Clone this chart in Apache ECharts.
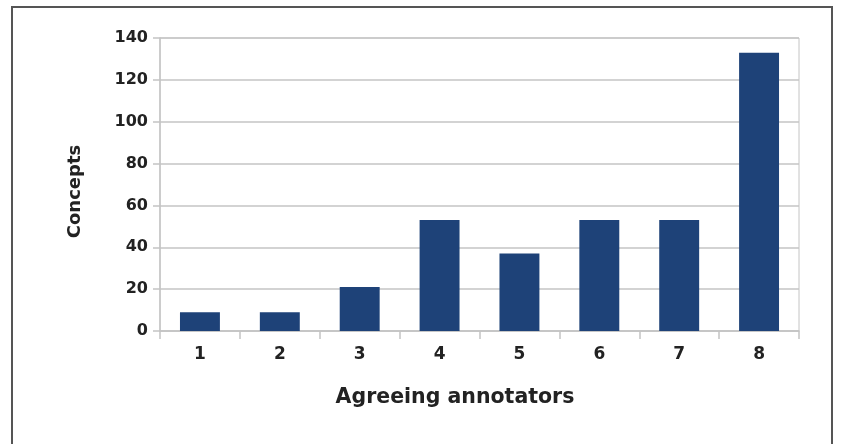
<!DOCTYPE html>
<html><head><meta charset="utf-8">
<script src="https://cdn.jsdelivr.net/npm/echarts@6/dist/echarts.min.js"></script>
<style>html,body{margin:0;padding:0;background:#fff}#c{width:849px;height:444px}</style>
</head><body><div id="c"></div>
<script>
const categories = ['1','2','3','4','5','6','7','8'];
const concepts = [9, 9, 21, 53, 37, 53, 53, 133];
const yTicks = [0, 20, 40, 60, 80, 100, 120, 140];
const xTitle = 'Agreeing annotators';
const yTitle = 'Concepts';

const chart = echarts.init(document.getElementById('c'), null, {renderer:'canvas'});
const font = 'DejaVu Sans';
chart.setOption({
  animation: false,
  backgroundColor: '#fff',
  graphic: [{
    type: 'rect', silent: true,
    shape: {x: 12, y: 7, width: 820, height: 450},
    style: {fill: 'none', stroke: '#555', lineWidth: 2}
  }],
  grid: {left: 160, right: 50, top: 38, bottom: 113, show: true, borderColor: '#c4c4c4', borderWidth: 1},
  xAxis: {
    type: 'category', data: categories,
    name: xTitle, nameLocation: 'middle', nameGap: 56,
    nameTextStyle: {fontFamily: font, fontWeight: 'bold', fontSize: 20.5, color: '#222', padding: [0, 49, 0, 0]},
    axisLine: {lineStyle: {color: '#c4c4c4', width: 1.5}},
    axisTick: {show: true, length: 8, lineStyle: {color: '#c4c4c4', width: 1.5}},
    axisLabel: {fontFamily: font, fontWeight: 'bold', fontSize: 17, color: '#222', margin: 15}
  },
  yAxis: {
    type: 'value', min: yTicks[0], max: yTicks[yTicks.length-1], interval: 20,
    name: yTitle, nameLocation: 'middle', nameGap: 76, nameRotate: 90,
    nameTextStyle: {fontFamily: font, fontWeight: 'bold', fontSize: 18, color: '#222', padding: [0, 14, 0, 0]},
    axisLine: {show: true, lineStyle: {color: '#c4c4c4', width: 1.5}},
    axisTick: {show: true, length: 7, lineStyle: {color: '#c4c4c4', width: 1.5}},
    splitLine: {lineStyle: {color: '#c4c4c4', width: 1.5}},
    axisLabel: {fontFamily: font, fontWeight: 'bold', fontSize: 16, color: '#222', margin: 12}
  },
  series: [{
    type: 'bar', data: concepts, barWidth: '50%',
    itemStyle: {color: '#1e4278'}
  }]
});
</script></body></html>
